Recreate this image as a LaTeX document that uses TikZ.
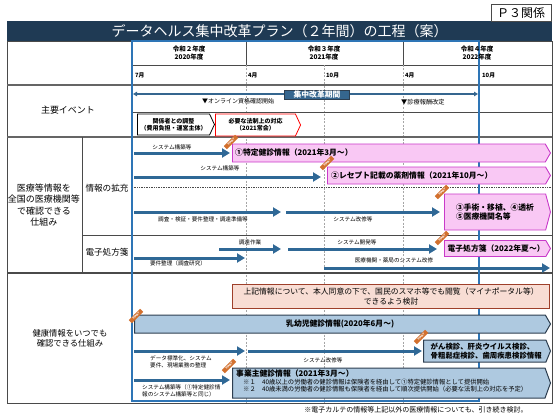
\documentclass[tikz,border=0pt]{standalone}
\usepackage{fontspec}
\setmainfont{Noto Sans CJK JP}
\usetikzlibrary{arrows.meta,shapes.symbols}

\definecolor{titlenavy}{HTML}{1F3A54}
\definecolor{frameblue}{HTML}{2E75B6}
\definecolor{arrblue}{HTML}{2F6896}
\definecolor{kikanblue}{HTML}{35668F}
\definecolor{pinkfill}{HTML}{F9C8F4}
\definecolor{pinkline}{HTML}{C93AC9}
\definecolor{salmonfill}{HTML}{F8DDD4}
\definecolor{salmonline}{HTML}{9E3F2A}
\definecolor{bluefill}{HTML}{AEC9E0}
\definecolor{blueline}{HTML}{2D3E50}
\definecolor{startorange}{HTML}{D2702E}
\definecolor{gridgray}{HTML}{4A4A4A}

\begin{document}
\begin{tikzpicture}[x=1pt, y=-1pt,
    grid/.style={gridgray, line width=0.7pt},
    rowline/.style={gridgray!85, line width=1.6pt},
    monthline/.style={gray!70, line width=0.6pt, dash pattern=on 2pt off 1.5pt},
    arr/.style={-{Triangle[length=8pt, width=9pt]}, arrblue, line width=3pt},
    lbl/.style={font=\fontsize{5.6}{6.8}\selectfont, inner sep=0pt, align=left},
    yearlbl/.style={font=\bfseries\fontsize{6.5}{7.5}\selectfont, align=center, inner sep=0pt},
    monthlbl/.style={font=\bfseries\fontsize{5.8}{7}\selectfont, inner sep=0pt},
    rowlbl/.style={align=center, inner sep=0pt},
    chevron/.style={signal, signal to=east, signal pointer angle=130, fill=white, line width=0.8pt,
        align=center, inner sep=1pt, font=\bfseries\fontsize{6}{7.2}\selectfont},
    pinkbox/.style={signal, signal to=east, draw=pinkline, fill=pinkfill, line width=0.9pt, inner sep=1pt, anchor=west},
    bluebox/.style={signal, signal to=east, draw=blueline, fill=bluefill, line width=1pt, inner sep=1pt, anchor=west},
    boxtext/.style={font=\bfseries\fontsize{7.8}{9.2}\selectfont, inner sep=0pt, align=left},
    startbadge/.style={fill=startorange, text=white, font=\bfseries\fontsize{2.8}{3}\selectfont,
        minimum width=16pt, minimum height=4.5pt, inner sep=0pt, rotate=45}
]
\useasboundingbox (0,0) rectangle (560,420);

% title
\node[fill=titlenavy, text=white, minimum width=545pt, minimum height=20pt, inner sep=0pt, anchor=north west,
    font=\fontsize{14}{16}\selectfont] (title) at (7,21) {データヘルス集中改革プラン（２年間）の工程（案）};
\node[draw=gridgray, fill=white, line width=0.8pt, minimum width=60pt, minimum height=17pt, inner sep=0pt,
    font=\fontsize{12}{14}\selectfont] (page) at (521,12.5) {Ｐ３関係};

% table grid
\draw[grid] (7,41) rectangle (552,403);
\draw[grid] (132,65) -- (552,65);
\draw[grid] (246,41) -- (246,65);
\draw[grid] (403,41) -- (403,65);
\foreach \mx in {246,324,403}
  \draw[monthline] (\mx,65) -- (\mx,403);
\draw[rowline] (7,85) -- (552,85);
\draw[grid] (132,112) -- (552,112);
\draw[rowline] (7,137) -- (552,137);
\draw[grid] (82,137) -- (82,273);
\draw[grid, densely dotted, line width=0.9pt] (132,187) -- (552,187);
\draw[grid] (82,235) -- (552,235);
\draw[grid, line width=1.1pt] (7,273) -- (552,273);
\draw[frameblue, line width=1.5pt] (132,41) rectangle (479,401);

% header
\foreach \yx/\reiwa/\yr in {189/２/2020, 324/３/2021, 477/４/2022}
  \node[yearlbl] (fy\yr) at (\yx,53) {令和\reiwa 年度\\\yr 年度};
\foreach \mx/\mname [count=\i] in {135/7月, 248/4月, 326/10月, 405/4月, 482/10月}
  \node[monthlbl, anchor=west] (m\i) at (\mx,75) {\mname};

% row labels
\node[rowlbl, font=\fontsize{9}{11}\selectfont] (events) at (68,110) {主要イベント};
\node[rowlbl, font=\fontsize{9}{11.3}\selectfont] (iryo) at (44,205) {医療等情報を\\全国の医療機関等\\で確認できる\\仕組み};
\node[rowlbl, font=\fontsize{8.6}{10}\selectfont] (kakuju) at (107,188) {情報の拡充};
\node[rowlbl, font=\fontsize{8.6}{10}\selectfont] (denshi) at (107,252) {電子処方箋};
\node[rowlbl, font=\fontsize{8.3}{10}\selectfont] (kenko) at (70,338) {健康情報をいつでも\\確認できる仕組み};

% main events
\coordinate (kikanL) at (133,94);
\coordinate (kikanR) at (478,94);
\draw[{Triangle[length=4pt, width=4.5pt]}-{Triangle[length=4pt, width=4.5pt]}, kikanblue, line width=1.2pt] (kikanL) -- (kikanR);
\node[draw=blueline, fill=kikanblue, text=white, font=\bfseries\fontsize{7.8}{9}\selectfont,
    minimum width=65pt, minimum height=9.5pt, inner sep=0pt] (kikan) at (317,94.5) {集中改革期間};
\node[lbl, font=\fontsize{6}{7}\selectfont, anchor=west] (online) at (202,101) {▼オンライン資格確認開始};
\node[lbl, font=\fontsize{6.2}{7}\selectfont, anchor=west] (shinryo) at (401,102) {▼診療報酬改定};
\node[chevron, draw=black, minimum width=77pt, minimum height=21pt] (chosei) at (173.5,124.5) {関係者との調整\\（費用負担・運営主体）};
\node[chevron, draw=red, minimum width=85pt, minimum height=22pt] (hosei) at (255.5,125) {必要な法制上の対応\\（2021常会）};

% info expansion
\node[pinkbox, signal pointer angle=120, minimum width=318pt, minimum height=18pt] (joho1) at (232,153) {};
\node[boxtext, anchor=west] (joho1t) at ([xshift=3pt]joho1.west) {①特定健診情報（2021年3月～）};
\node[pinkbox, signal pointer angle=120, minimum width=223pt, minimum height=17pt] (joho2) at (327,175.5) {};
\node[boxtext, anchor=west] (joho2t) at ([xshift=4pt]joho2.west) {②レセプト記載の薬剤情報（2021年10月～）};
\node[pinkbox, signal pointer angle=150, minimum width=106pt, minimum height=36pt, boxtext] (joho3) at (444,212) {③手術・移植、④透析\\⑤医療機関名等};

\coordinate (a1s) at (134,153);
\coordinate (a2s) at (134,177);
\coordinate (a3s) at (134,212);
\coordinate (a3e) at (281,212);
\coordinate (a4s) at (286,212);
\draw[arr] (a1s) -- ([xshift=-2pt]joho1.west);
\draw[arr] (a2s) -- (321,177) coordinate (a2e);
\draw[arr] (a3s) -- (a3e);
\draw[arr] (a4s) -- ([xshift=-4pt]joho3.west);
\node[lbl] (a1l) at (172,147) {システム構築等};
\node[lbl] (a2l) at (220,168.5) {システム構築等};
\node[lbl] (a3l) at (203,219.5) {調査・検証・要件整理・調達準備等};
\node[lbl] (a4l) at (353,219) {システム改修等};

% e-prescription
\node[pinkbox, signal pointer angle=120, minimum width=106pt, minimum height=16pt, boxtext, font=\bfseries\fontsize{7.8}{9}\selectfont] (shohou) at (444,248.5) {\hspace{2pt}電子処方箋（2022年夏～）};
\coordinate (b1s) at (134,258);
\coordinate (b1e) at (245,258);
\coordinate (b2s) at (219,249);
\coordinate (b2e) at (281,249);
\coordinate (b3s) at (288,249);
\coordinate (b3e) at (437,249);
\coordinate (b4s) at (324,268);
\coordinate (b4e) at (550,268);
\draw[arr] (b1s) -- (b1e);
\draw[arr] (b2s) -- (b2e);
\draw[arr] (b3s) -- (b3e);
\draw[arr] (b4s) -- (b4e);
\node[lbl] (b1l) at (178,263.5) {要件整理（調査研究）};
\node[lbl] (b2l) at (250,242.5) {調達作業};
\node[lbl] (b3l) at (357,242) {システム開発等};
\node[lbl] (b4l) at (394,260.5) {医療機関・薬局のシステム改修};

% health info
\node[draw=salmonline, fill=salmonfill, line width=1.2pt, minimum width=317pt, minimum height=24pt, inner sep=0pt,
    anchor=north west, align=center, font=\fontsize{7.8}{9.4}\selectfont] (portal) at (232,284)
    {上記情報について、本人同意の下で、国民のスマホ等でも閲覧（マイナポータル等）\\できるよう検討};
\node[bluebox, signal pointer angle=120, minimum width=416pt, minimum height=18pt] (nyuyoji) at (134,324) {};
\node[boxtext, font=\bfseries\fontsize{7.8}{9}\selectfont, anchor=west] (nyuyojit) at (286,324) {乳幼児健診情報(2020年6月～)};
\node[bluebox, signal pointer angle=135, minimum width=127pt, minimum height=22pt, boxtext,
    font=\bfseries\fontsize{7.4}{8.6}\selectfont] (gan) at (423,351) {\hspace{3pt}がん検診、肝炎ウイルス検診、\\\hspace{3pt}骨粗鬆症検診、歯周疾患検診情報};
\node[bluebox, signal pointer angle=140, minimum width=318pt, minimum height=30pt] (jigyo) at (232,383) {};
\node[boxtext, anchor=west] (jigyot) at (236,374) {事業主健診情報（2021年3月～）};
\node[lbl, font=\fontsize{6.3}{7.6}\selectfont, anchor=north west] (jigyon) at (243,378.5)
    {※１　40歳以上の労働者の健診情報は保険者を経由して①特定健診情報として提供開始\\
     ※２　40歳未満の労働者の健診情報も保険者を経由して順次提供開始（必要な法制上の対応を予定）};

\coordinate (c1s) at (134,351);
\coordinate (c1e) at (245,351);
\coordinate (c2s) at (248,351);
\coordinate (c3s) at (134,380);
\draw[arr] (c1s) -- (c1e);
\draw[arr] (c2s) -- ([xshift=-1pt]gan.west);
\draw[arr] (c3s) -- ([xshift=-2pt]c3s -| jigyo.west);
\node[lbl, anchor=north west] (c1l) at (150,356) {データ標準化、システム\\要件、現場業務の整理};
\node[lbl] (c2l) at (323,360) {システム改修等};
\node[lbl, anchor=north west] (c3l) at (142,384.5) {システム構築等（①特定健診情\\報のシステム構築等と同じ）};

% start badges
\foreach \bx/\by [count=\i] in {231/142, 327/163, 442/192, 442/238, 136/316, 421/337, 229/366}
  \node[startbadge] (start\i) at (\bx,\by) {START};

% footnote
\node[font=\fontsize{7}{8}\selectfont, inner sep=0pt] (footnote) at (416,410) {※電子カルテの情報等上記以外の医療情報についても、引き続き検討。};
\end{tikzpicture}
\end{document}
